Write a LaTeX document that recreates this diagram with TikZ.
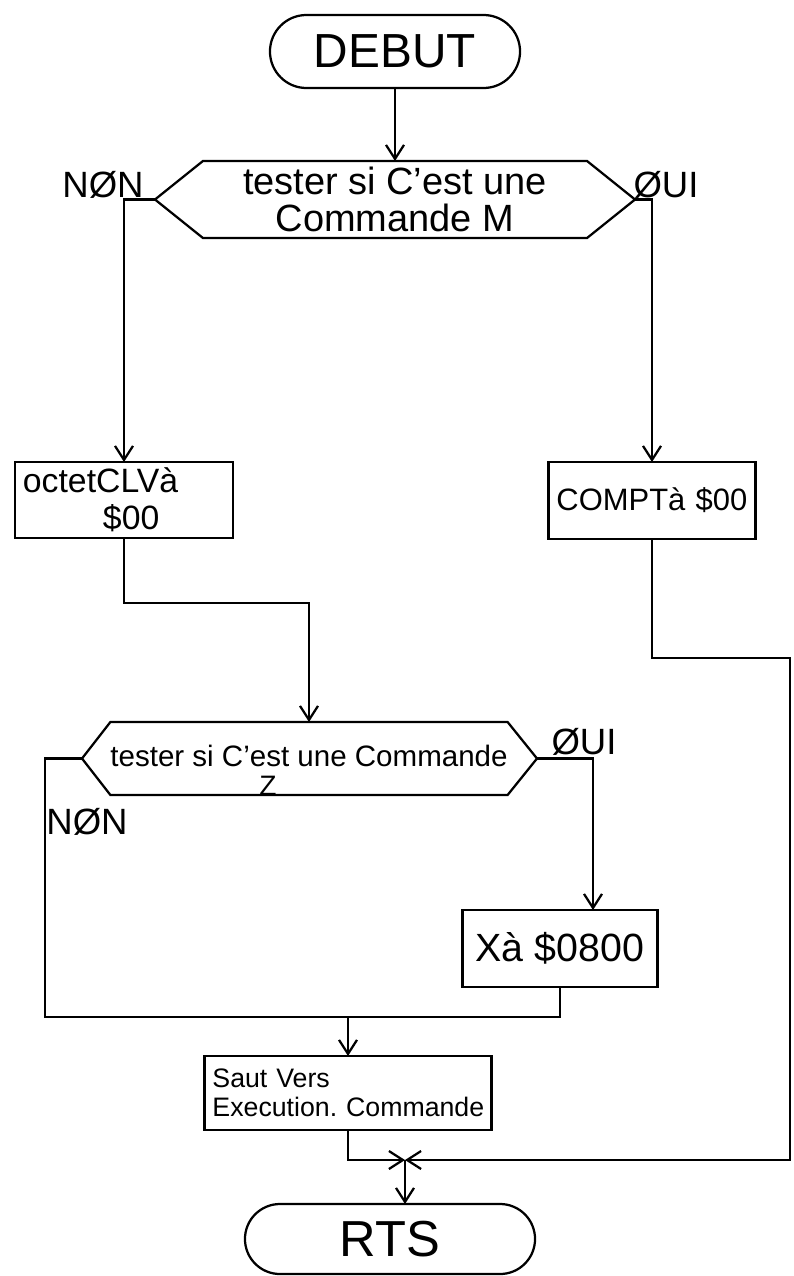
\documentclass[tikz,border=0pt]{standalone}
\usepackage{fontspec}
\setmainfont{Liberation Sans}
\usetikzlibrary{shapes.misc,arrows.meta,calc}
\begin{document}
\begin{tikzpicture}[x=0.025cm,y=-0.025cm,
  line width=1.6pt,
  every node/.style={inner sep=0pt, outer sep=0pt},
  term/.style={draw, rounded rectangle, font=\fontsize{34}{38}\selectfont},
  proc/.style={draw, rectangle, inner xsep=0.2cm, align=left},
  hexlabel/.style={align=center},
  arr/.style={-{Straight Barb[length=3.5mm,width=4.5mm]}},
  lbl/.style={font=\fontsize{26}{28}\selectfont},
]
\useasboundingbox (0,0) rectangle (794,1276);

% start
\node[term, minimum width=6.25cm, minimum height=1.825cm] (debut) at (395,51.5) {DEBUT};

% first test
\node[hexlabel, minimum width=9.6cm, minimum height=1.925cm, font=\fontsize{27}{26}\selectfont] (h1) at (395,199.5) {tester si C'est une\\Commande M};
\coordinate (h1w) at (155,199.5);
\coordinate (h1e) at (635,199.5);
\draw (h1.north west) -- (h1.north east) -- (h1e) -- (h1.south east) -- (h1.south west) -- (h1w) -- cycle;
\node[lbl] (non1) at (103,185) {NØN};
\node[lbl] (oui1) at (666,185) {ØUI};

% boxes
\node[proc, text width=5.05cm, minimum height=1.9cm, font=\fontsize{24}{26}\selectfont] (oct) at (124,500) {octetCLVà\\\hspace*{2.0cm}\$00};
\node[proc, text width=4.775cm, minimum height=1.925cm, font=\fontsize{22}{24}\selectfont] (compt) at (652,500.5) {COMPTà \$00};

% second test
\node[hexlabel, minimum width=9.05cm, minimum height=1.825cm, font=\fontsize{21}{23}\selectfont] (h2) at (309,756) {tester si C'est une Commande};
\coordinate (h2w) at (82,758.5);
\coordinate (h2e) at (537,758.5);
\draw ($(h2.north west)+(0,2.5)$) -- ($(h2.north east)+(0,2.5)$) -- (h2e) -- ($(h2.south east)+(0,2.5)$) -- ($(h2.south west)+(0,2.5)$) -- (h2w) -- cycle;
\node[font=\fontsize{20}{22}\selectfont] (z2) at (268,786) {Z};
\node[lbl] (non2) at (87,822) {NØN};
\node[lbl] (oui2) at (584,742) {ØUI};

\node[proc, minimum width=4.875cm, minimum height=1.925cm, font=\fontsize{28}{30}\selectfont] (xa) at (560,948.5) {Xà \$0800};
\node[proc, text width=6.775cm, minimum height=1.85cm, font=\fontsize{19}{21}\selectfont] (saut) at (348,1093) {Saut Vers\\\mbox{Execution.\ Commande}};

% end
\node[term, minimum width=7.25cm, minimum height=1.75cm, font=\fontsize{36}{40}\selectfont] (rts) at (390,1239) {RTS};

% helper coordinates
\coordinate (j1) at (309,603);
\coordinate (c1) at (790,658);
\coordinate (c2) at (790,1160);
\coordinate (jn) at (405,1160);
\coordinate (m1) at (45,1017);
\coordinate (h2o) at (593,758.5);

% connectors
\draw[arr] (debut.south) -- (h1.north);
\draw[arr] (h1w) -| (oct.north);
\draw[arr] (h1e) -| (compt.north);
\draw[arr] (oct.south) |- (j1) -- ($(h2.north)+(0,2.5)$);
\draw[arr] (compt.south) |- (c1) -- (c2) -- (jn);
\draw[arr] (h2e) -- (h2o) -- (h2o |- xa.north);
\draw (h2w) -| (m1) -- (xa.south |- m1) -- (xa.south);
\draw[arr] (saut.north |- m1) -- (saut.north);
\draw[arr] (saut.south) |- (jn);
\draw[arr] (jn) -- (jn |- rts.north);
\end{tikzpicture}
\end{document}
